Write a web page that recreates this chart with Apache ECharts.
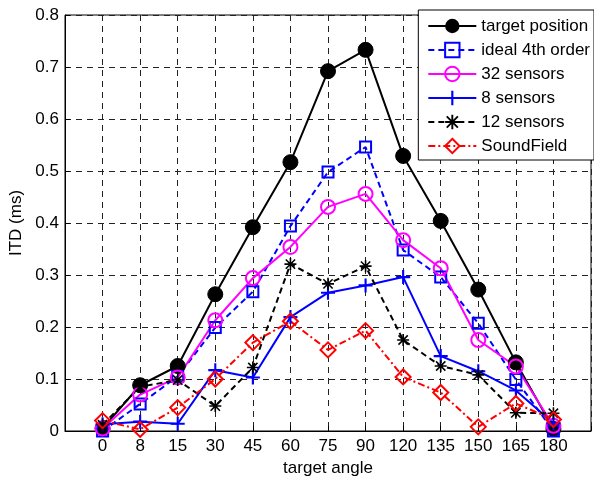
<!DOCTYPE html>
<html>
<head>
<meta charset="utf-8">
<script src="https://cdn.jsdelivr.net/npm/echarts@6/dist/echarts.min.js"></script>
<style>html,body{margin:0;padding:0;background:#fff}#c{width:594px;height:477px}</style>
</head>
<body>
<div id="c"></div>
<script>
var categories = ['0','8','15','30','45','60','75','90','120','135','150','165','180'];
var targetPosition = [0.005,0.088,0.125,0.263,0.392,0.517,0.692,0.733,0.529,0.404,0.272,0.132,0.004];
var ideal4th      = [0.000,0.052,0.105,0.199,0.268,0.394,0.498,0.546,0.348,0.296,0.207,0.099,0.000];
var sensors32     = [0.005,0.070,0.103,0.213,0.294,0.354,0.431,0.456,0.367,0.313,0.175,0.124,0.010];
var sensors8      = [0.013,0.018,0.014,0.117,0.103,0.219,0.266,0.280,0.296,0.144,0.115,0.078,0.015];
var sensors12     = [0.012,0.085,0.098,0.048,0.122,0.321,0.283,0.317,0.175,0.125,0.108,0.035,0.034];
var soundField    = [0.020,0.003,0.045,0.100,0.170,0.211,0.156,0.193,0.104,0.074,0.008,0.053,0.022];
var yTicks = [0,0.1,0.2,0.3,0.4,0.5,0.6,0.7,0.8];

function pts(arr){ return arr.map(function(v,i){ return [i,v]; }); }

var plusPath = 'path://M5.1,0h1.8v5.1h5.1v1.8h-5.1v5.1h-1.8v-5.1h-5.1v-1.8h5.1z';
var starPath = 'path://M5.2,0h1.6v12h-1.6z M0,5.2h12v1.6h-12z M0.8,1.9L1.9,0.8L11.2,10.1L10.1,11.2z M10.1,0.8L11.2,1.9L1.9,11.2L0.8,10.1z';

var chart = echarts.init(document.getElementById('c'), null, {renderer:'canvas'});
var font = 'Liberation Sans, Arial, sans-serif';
chart.setOption({
  backgroundColor:'#fff',
  animation:false,
  textStyle:{fontFamily:font},
  grid:{left:65,right:3,top:15,bottom:46,containLabel:false,outerBoundsMode:'none',
    show:true,borderColor:'#000',borderWidth:1,backgroundColor:'transparent'},
  legend:{
    orient:'vertical', right:0, top:10,
    backgroundColor:'#fff', borderColor:'#000', borderWidth:1, borderRadius:0,
    padding:[7,4,5,9], itemGap:6, itemWidth:48, itemHeight:18,
    textStyle:{fontSize:17,color:'#000',fontFamily:font,lineHeight:18},
    data:['target position','ideal 4th order','32 sensors','8 sensors','12 sensors','SoundField']
  },
  xAxis:{
    type:'value', min:-1, max:13, interval:1,
    name:'target angle', nameLocation:'middle', nameGap:29,
    nameTextStyle:{fontSize:17,color:'#000',fontFamily:font},
    axisLine:{show:true,onZero:false,lineStyle:{color:'#000',width:1}},
    axisTick:{show:true,inside:true,length:5,lineStyle:{color:'#000'}},
    axisLabel:{fontSize:17,color:'#000',margin:7,fontFamily:font,
      formatter:function(v){ var i=Math.round(v); return (i>=0 && i<categories.length)?categories[i]:''; }},
    splitLine:{show:true,lineStyle:{color:'#222',width:1,type:[6,5]}}
  },
  yAxis:{
    type:'value', min:yTicks[0], max:yTicks[yTicks.length-1], interval:0.1,
    name:'ITD (ms)', nameLocation:'middle', nameGap:30,
    nameTextStyle:{fontSize:17,color:'#000',fontFamily:font},
    axisLine:{show:true,onZero:false,lineStyle:{color:'#000',width:1}},
    axisTick:{show:true,inside:true,length:5,lineStyle:{color:'#000'}},
    axisLabel:{fontSize:17,color:'#000',margin:6,fontFamily:font,
      formatter:function(v){ return v===0?'0':v.toFixed(1); }},
    splitLine:{show:true,lineStyle:{color:'#222',width:1,type:[6,5]}}
  },
  series:[
    {name:'target position',type:'line',data:pts(targetPosition),symbol:'circle',symbolSize:15,
      lineStyle:{color:'#000',width:2,type:'solid'},itemStyle:{color:'#000',borderColor:'#000'}},
    {name:'ideal 4th order',type:'line',data:pts(ideal4th),symbol:'rect',symbolSize:11,
      lineStyle:{color:'#0000ff',width:2,type:[6,4]},itemStyle:{color:'rgba(255,255,255,0)',borderColor:'#0000ff',borderWidth:2}},
    {name:'32 sensors',type:'line',data:pts(sensors32),symbol:'circle',symbolSize:14,
      lineStyle:{color:'#ff00ff',width:2,type:'solid'},itemStyle:{color:'rgba(255,255,255,0)',borderColor:'#ff00ff',borderWidth:2}},
    {name:'8 sensors',type:'line',data:pts(sensors8),symbol:plusPath,symbolSize:14,
      lineStyle:{color:'#0000ff',width:2,type:'solid'},itemStyle:{color:'#0000ff',borderColor:'#0000ff',borderWidth:0}},
    {name:'12 sensors',type:'line',data:pts(sensors12),symbol:starPath,symbolSize:12,
      lineStyle:{color:'#000',width:2,type:[6,4]},itemStyle:{color:'#000',borderColor:'#000',borderWidth:0}},
    {name:'SoundField',type:'line',data:pts(soundField),symbol:'diamond',symbolSize:15,
      lineStyle:{color:'#ff0000',width:2,type:[7,3,2,3]},itemStyle:{color:'rgba(255,255,255,0)',borderColor:'#ff0000',borderWidth:2}}
  ]
});
</script>
</body>
</html>
